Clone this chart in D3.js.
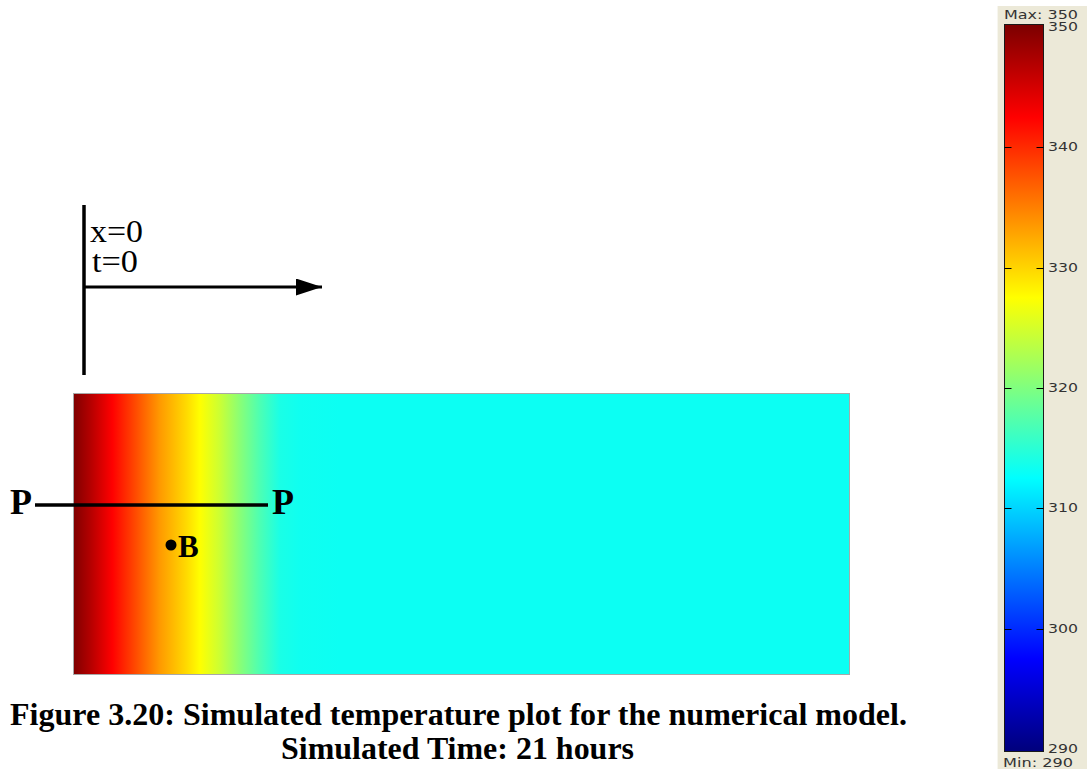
<!DOCTYPE html>
<html>
<head>
<meta charset="utf-8">
<script src="https://cdn.jsdelivr.net/npm/d3@7"></script>
<style>
  body { margin: 0; background: #fff; }
  svg { display: block; }
</style>
</head>
<body>
<svg id="chart" width="1087" height="769"></svg>
<script>
// temperature profile along the slab (distance as fraction of slab length, temperature in K)
const profileX = [0, 0.021, 0.05, 0.081, 0.111, 0.146, 0.163, 0.188, 0.214, 0.24, 0.266, 0.292, 0.343, 1];
const profileT = [350, 347, 342.5, 338, 333.5, 329.6, 327.5, 324.5, 320.6, 317, 314, 313.4, 313.2, 313.2];

// colour bar
const tempMin = 290;
const tempMax = 350;
const barTicks = [290, 300, 310, 320, 330, 340, 350];

// jet colormap anchors
const jetT = [0, 0.125, 0.375, 0.625, 0.875, 1];
const jetColors = ["#00007f", "#0000ff", "#00ffff", "#ffff00", "#ff0000", "#7f0000"];

const captionLines = [
  "Figure 3.20: Simulated temperature plot for the numerical model.",
  "Simulated Time: 21 hours"
];

const svg = d3.select("#chart");
const defs = svg.append("defs");

let jet = d3.scaleLinear()
    .domain(jetT.map(t => tempMin + t * (tempMax - tempMin)))
    .range(jetColors)
    .interpolate(d3.interpolateRgb)
    .clamp(true);

// slab
let slab = { x: 73.5, y: 393.5, w: 776, h: 281 };
let xScale = d3.scaleLinear().domain([0, 1]).range([0, 100]);

let slabGrad = defs.append("linearGradient")
    .attr("id", "slabGrad")
    .attr("x1", "0%").attr("x2", "100%").attr("y1", "0%").attr("y2", "0%");
slabGrad.selectAll("stop")
    .data(d3.zip(profileX, profileT))
    .join("stop")
    .attr("offset", d => xScale(d[0]) + "%")
    .attr("stop-color", d => jet(d[1]));

svg.append("rect")
    .attr("x", slab.x).attr("y", slab.y)
    .attr("width", slab.w).attr("height", slab.h)
    .attr("fill", "url(#slabGrad)")
    .attr("stroke", "#a8a8a8")
    .attr("stroke-width", 1);

// x=0 / t=0 marker with arrow
defs.append("marker")
    .attr("id", "arrow")
    .attr("viewBox", "0 0 26 17")
    .attr("refX", 26).attr("refY", 8.5)
    .attr("markerWidth", 26).attr("markerHeight", 17)
    .attr("markerUnits", "userSpaceOnUse")
    .attr("orient", "auto")
    .append("path")
    .attr("d", "M0,0 L26,8.5 L0,17 Z")
    .attr("fill", "#000");

svg.append("line")
    .attr("x1", 84).attr("x2", 84).attr("y1", 205).attr("y2", 375)
    .attr("stroke", "#000").attr("stroke-width", 3.5);
svg.append("line")
    .attr("x1", 84).attr("x2", 322).attr("y1", 287).attr("y2", 287)
    .attr("stroke", "#000").attr("stroke-width", 3)
    .attr("marker-end", "url(#arrow)");

svg.append("text").text("x=0")
    .attr("x", 90).attr("y", 242)
    .attr("font-family", "Liberation Serif, Times New Roman, serif")
    .attr("font-size", 32)
    .attr("textLength", 53).attr("lengthAdjust", "spacingAndGlyphs");
svg.append("text").text("t=0")
    .attr("x", 92).attr("y", 272)
    .attr("font-family", "Liberation Serif, Times New Roman, serif")
    .attr("font-size", 32)
    .attr("textLength", 46).attr("lengthAdjust", "spacingAndGlyphs");

// P-P section line and point B
svg.append("line")
    .attr("x1", 35).attr("x2", 268).attr("y1", 505).attr("y2", 505)
    .attr("stroke", "#000").attr("stroke-width", 3.5);

let boldSerif = sel => sel
    .attr("font-family", "Liberation Serif, Times New Roman, serif")
    .attr("font-weight", "bold");

svg.append("text").text("P").call(boldSerif)
    .attr("x", 10).attr("y", 514).attr("font-size", 36);
svg.append("text").text("P").call(boldSerif)
    .attr("x", 272).attr("y", 514).attr("font-size", 36);

svg.append("circle")
    .attr("cx", 171).attr("cy", 545).attr("r", 5.5)
    .attr("fill", "#000");
svg.append("text").text("B").call(boldSerif)
    .attr("x", 178).attr("y", 557).attr("font-size", 31);

// caption
svg.append("text").text(captionLines[0]).call(boldSerif)
    .attr("x", 10).attr("y", 725).attr("font-size", 31)
    .attr("textLength", 897).attr("lengthAdjust", "spacingAndGlyphs");
svg.append("text").text(captionLines[1]).call(boldSerif)
    .attr("x", 281).attr("y", 759).attr("font-size", 31)
    .attr("textLength", 353).attr("lengthAdjust", "spacingAndGlyphs");

// colour bar panel
let panel = svg.append("g");
panel.append("rect")
    .attr("x", 997).attr("y", 6).attr("width", 90).attr("height", 763)
    .attr("fill", "#ece9d8");
panel.append("line")
    .attr("x1", 997.5).attr("x2", 997.5).attr("y1", 6).attr("y2", 769)
    .attr("stroke", "#f7f6ef");

let yBar = d3.scaleLinear().domain([tempMin, tempMax]).range([749, 27]);
let bar = { x: 1004.5, x2: 1043.5, y: 24.5, y2: 751.5 };

let barGrad = defs.append("linearGradient")
    .attr("id", "barGrad")
    .attr("gradientUnits", "userSpaceOnUse")
    .attr("x1", 0).attr("x2", 0)
    .attr("y1", yBar(tempMin)).attr("y2", yBar(tempMax));
barGrad.selectAll("stop")
    .data(jetT)
    .join("stop")
    .attr("offset", d => (d * 100) + "%")
    .attr("stop-color", (d, i) => jetColors[i]);

panel.append("rect")
    .attr("x", bar.x).attr("y", bar.y)
    .attr("width", bar.x2 - bar.x).attr("height", bar.y2 - bar.y)
    .attr("fill", "url(#barGrad)")
    .attr("stroke", "#1a1a1a").attr("stroke-width", 1);

let inner = barTicks.filter(d => d > tempMin && d < tempMax);
panel.selectAll("line.tl")
    .data(inner).join("line").attr("class", "tl")
    .attr("x1", bar.x).attr("x2", bar.x + 7)
    .attr("y1", d => Math.round(yBar(d)) + 0.5).attr("y2", d => Math.round(yBar(d)) + 0.5)
    .attr("stroke", "#000");
panel.selectAll("line.tr")
    .data(inner).join("line").attr("class", "tr")
    .attr("x1", bar.x2 - 7).attr("x2", bar.x2)
    .attr("y1", d => Math.round(yBar(d)) + 0.5).attr("y2", d => Math.round(yBar(d)) + 0.5)
    .attr("stroke", "#000");

let sans = sel => sel
    .attr("font-family", "DejaVu Sans, Verdana, sans-serif")
    .attr("font-size", 11.5)
    .attr("fill", "#333");

panel.selectAll("text.tick")
    .data(barTicks).join("text").attr("class", "tick")
    .call(sans)
    .attr("x", 1048)
    .attr("y", d => yBar(d) + 4)
    .attr("textLength", 30).attr("lengthAdjust", "spacingAndGlyphs")
    .text(d => d);

panel.append("text").call(sans)
    .attr("x", 1004).attr("y", 19)
    .attr("textLength", 74).attr("lengthAdjust", "spacingAndGlyphs")
    .text("Max: " + tempMax);
panel.append("text").call(sans)
    .attr("x", 1003).attr("y", 767)
    .attr("textLength", 70).attr("lengthAdjust", "spacingAndGlyphs")
    .text("Min: " + tempMin);
</script>
</body>
</html>
